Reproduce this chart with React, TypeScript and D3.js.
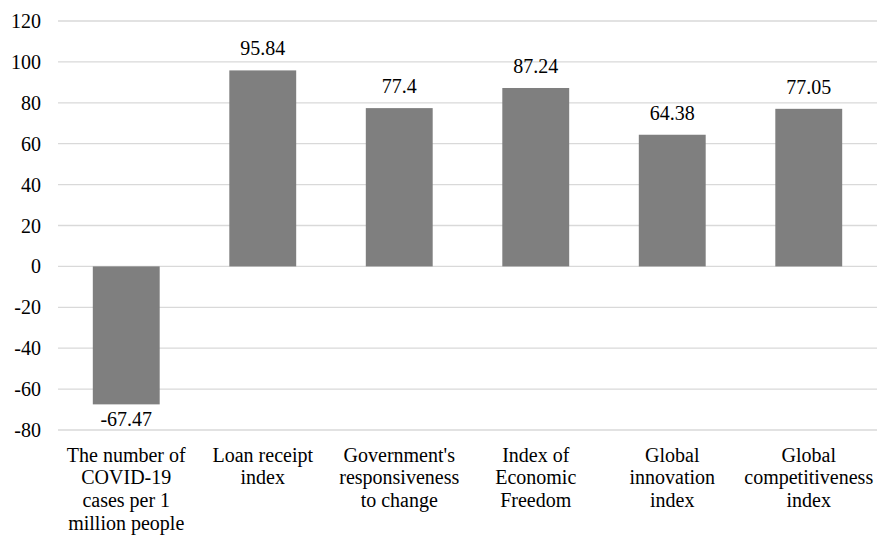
import React from "react";
import * as d3 from "d3";

const categories: string[][] = [
  ["The number of", "COVID-19", "cases per 1", "million people"],
  ["Loan receipt", "index"],
  ["Government's", "responsiveness", "to change"],
  ["Index of", "Economic", "Freedom"],
  ["Global", "innovation", "index"],
  ["Global", "competitiveness", "index"],
];
const values: number[] = [-67.47, 95.84, 77.4, 87.24, 64.38, 77.05];
const valueLabels: string[] = ["-67.47", "95.84", "77.4", "87.24", "64.38", "77.05"];
const yTicks: number[] = [120, 100, 80, 60, 40, 20, 0, -20, -40, -60, -80];

const W = 879;
const H = 537;
const left = 58;
const right = 877;
const top = 21;
const bottom = 430;
const FONT = '"Liberation Serif", "Times New Roman", Times, "DejaVu Serif", serif';
const textStyle: React.CSSProperties = { fontFamily: FONT, fontSize: "20px" };

export default function App() {
  const x = d3
    .scaleBand<number>()
    .domain(values.map((_, i) => i))
    .range([left, right])
    .paddingInner(0.51)
    .paddingOuter(0.255);
  const band = d3.scaleBand<number>().domain(values.map((_, i) => i)).range([left, right]);
  const y = d3.scaleLinear().domain([-80, 120]).range([bottom, top]);

  return (
    <svg
      width={W}
      height={H}
      style={{ position: "absolute", left: 0, top: 0, background: "#fff" }}
    >
      <rect x={0} y={0} width={W} height={H} fill="#fff" />
      {yTicks.map((t) => (
        <g key={t}>
          <line x1={left} x2={right} y1={y(t)} y2={y(t)} stroke="#d9d9d9" strokeWidth={1.3} />
          <text x={41} y={y(t) + 7} textAnchor="end" style={textStyle} fill="#000">
            {t}
          </text>
        </g>
      ))}
      {values.map((v, i) => {
        const bx = x(i)!;
        const bw = x.bandwidth();
        const y0 = y(0);
        const yv = y(v);
        const cx = band(i)! + band.bandwidth() / 2;
        return (
          <g key={i}>
            <rect x={bx} y={Math.min(y0, yv)} width={bw} height={Math.abs(yv - y0)} fill="#7f7f7f" />
            <text
              x={cx}
              y={v >= 0 ? yv - 15 : yv + 22}
              textAnchor="middle"
              style={textStyle}
              fill="#000"
            >
              {valueLabels[i]}
            </text>
            {categories[i].map((line, j) => (
              <text
                key={j}
                x={cx}
                y={461.5 + j * 22.7}
                textAnchor="middle"
                style={textStyle}
                fill="#000"
              >
                {line}
              </text>
            ))}
          </g>
        );
      })}
    </svg>
  );
}
